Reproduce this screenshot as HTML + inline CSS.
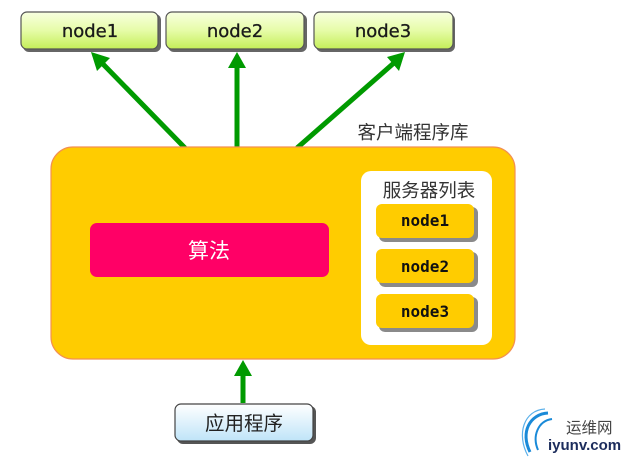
<!DOCTYPE html>
<html><head><meta charset="utf-8"><style>
html,body{margin:0;padding:0;background:#fff;}
svg{display:block;}
</style></head><body>
<svg width="629" height="461" viewBox="0 0 629 461" xmlns="http://www.w3.org/2000/svg">
<defs>
<linearGradient id="gn" x1="0" y1="0" x2="0" y2="1">
<stop offset="0" stop-color="#f8ffe0"/><stop offset="0.5" stop-color="#e6fca8"/><stop offset="1" stop-color="#c4ee58"/>
</linearGradient>
<linearGradient id="gb" x1="0" y1="0" x2="0" y2="1">
<stop offset="0" stop-color="#ffffff"/><stop offset="1" stop-color="#bfe4f8"/>
</linearGradient>
</defs>
<g font-family="'DejaVu Sans', 'Liberation Sans', sans-serif" font-size="18" fill="#1a1a1a" text-anchor="middle" stroke="#1a1a1a" stroke-width="0.3">
<rect x="23" y="14" width="138" height="38" rx="6" fill="#666" stroke="none"/>
<rect x="21" y="12" width="137" height="37" rx="6" fill="url(#gn)" stroke="#555" stroke-width="1.2"/>
<text x="90" y="37">node1</text>
<rect x="168" y="14" width="139" height="38" rx="6" fill="#666" stroke="none"/>
<rect x="166" y="12" width="138" height="37" rx="6" fill="url(#gn)" stroke="#555" stroke-width="1.2"/>
<text x="235" y="37">node2</text>
<rect x="316" y="14" width="139" height="38" rx="6" fill="#666" stroke="none"/>
<rect x="314" y="12" width="139" height="37" rx="6" fill="url(#gn)" stroke="#555" stroke-width="1.2"/>
<text x="383" y="37">node3</text>
</g>
<g stroke="#009a00" stroke-width="5" fill="#009a00">
<line x1="185" y1="148" x2="101" y2="62"/>
<polygon points="91,52 110,58 97,71" stroke="none"/>
<line x1="237" y1="148" x2="237" y2="66"/>
<polygon points="237,52 246,68 228,68" stroke="none"/>
<line x1="297" y1="148" x2="395" y2="62"/>
<polygon points="405,52 387,57 399,71" stroke="none"/>
<line x1="243" y1="403" x2="243" y2="373"/>
<polygon points="243,360 252,376 234,376" stroke="none"/>
</g>
<text x="413" y="139" font-family="'Liberation Sans','Noto Sans CJK SC',sans-serif" font-size="18.5" fill="#333" text-anchor="middle">客户端程序库</text>
<rect x="51" y="147" width="464" height="212" rx="22" fill="#ffcc00" stroke="#f39050" stroke-width="1.2"/>
<rect x="90" y="223" width="239" height="54" rx="7" fill="#ff0066"/>
<text x="209" y="258" font-family="'Liberation Sans','Noto Sans CJK SC',sans-serif" font-size="21" fill="#fff" text-anchor="middle">算法</text>
<rect x="361" y="171" width="131" height="174" rx="10" fill="#fff"/>
<text x="429" y="197" font-family="'Liberation Sans','Noto Sans CJK SC',sans-serif" font-size="18.5" fill="#333" text-anchor="middle">服务器列表</text>
<g font-family="'DejaVu Sans Mono','Liberation Mono',monospace" font-weight="bold" font-size="16" fill="#111" text-anchor="middle">
<rect x="379" y="207" width="99" height="35" rx="6" fill="#8a8a8a"/>
<rect x="376" y="204" width="98" height="34" rx="6" fill="#ffcc00"/>
<text x="425" y="226">node1</text>
<rect x="379" y="252" width="99" height="35" rx="6" fill="#8a8a8a"/>
<rect x="376" y="249" width="98" height="34" rx="6" fill="#ffcc00"/>
<text x="425" y="272">node2</text>
<rect x="379" y="297" width="99" height="35" rx="6" fill="#8a8a8a"/>
<rect x="376" y="294" width="98" height="34" rx="6" fill="#ffcc00"/>
<text x="425" y="317">node3</text>
</g>
<rect x="177" y="406" width="139" height="38" rx="6" fill="#555"/>
<rect x="175" y="404" width="138" height="37" rx="6" fill="url(#gb)" stroke="#444" stroke-width="1.2"/>
<text x="244" y="430" font-family="'Liberation Sans','Noto Sans CJK SC',sans-serif" font-size="19.5" fill="#222" text-anchor="middle">应用程序</text>
<g fill="none" stroke="#1a8ad8">
<path d="M548,413 C530,414 520,432 530,452" stroke-width="3"/>
<path d="M552,419 C538,421 532,436 538,450" stroke-width="2"/>
<path d="M545,409 C524,410 516,434 528,456" stroke-width="1.2" stroke="#5ab0ea"/>
</g>
<text x="566" y="433" font-family="'Liberation Sans','Noto Sans CJK SC',sans-serif" font-size="15.5" fill="#444">运维网</text>
<text x="548" y="450" font-family="'Liberation Sans',sans-serif" font-weight="bold" font-size="15" fill="#1c2c5c">iyunv.com</text>
</svg>
</body></html>
